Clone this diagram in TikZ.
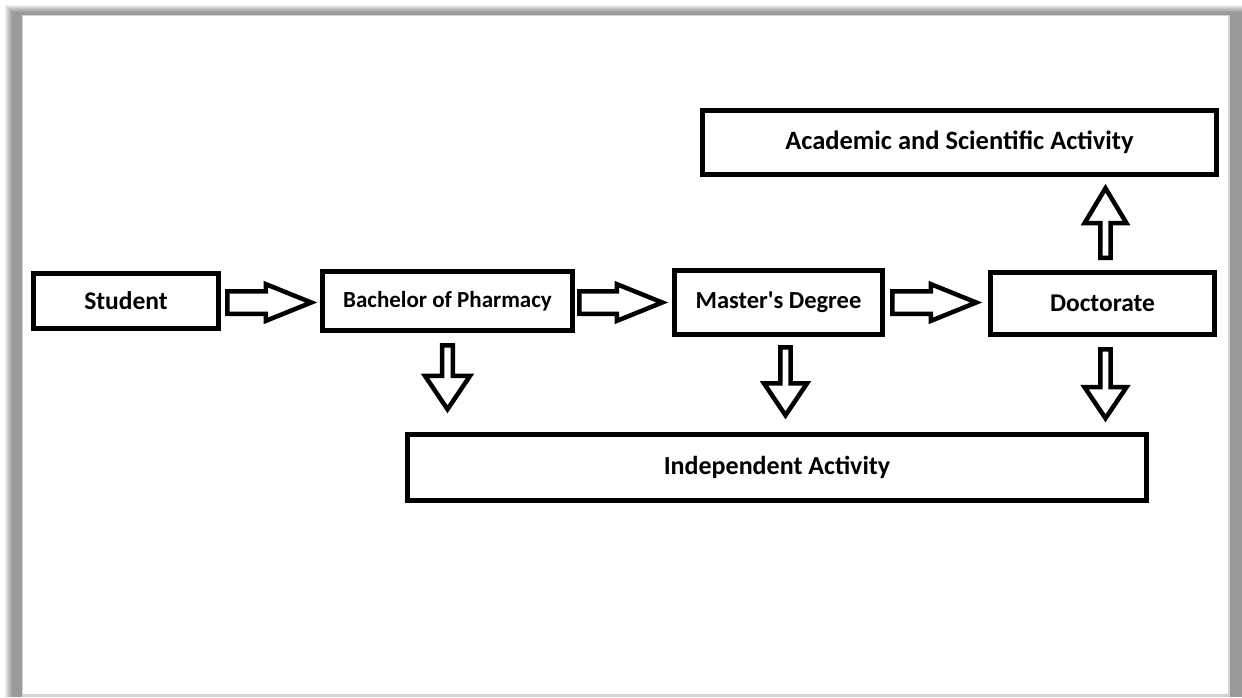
\documentclass[tikz,border=0pt]{standalone}
\usepackage{fontspec}
\setmainfont{Carlito}
\usetikzlibrary{shapes.arrows,calc}
\definecolor{framegray}{HTML}{D4D4D4}
\tikzset{
  box/.style={draw=black,line width=5pt,fill=white,inner sep=0pt,font=\bfseries},
  blockarrow/.style={single arrow,draw=black,line width=4.5pt,fill=white,inner sep=0pt,text depth=0pt,anchor=tail},
  harrow/.style={blockarrow,text height=18pt,minimum width=35pt,single arrow tip angle=44},
  varrow/.style={blockarrow,single arrow tip angle=68,shape border rotate=270},
}
\begin{document}
\begin{tikzpicture}[x=1pt,y=-1pt]
\useasboundingbox (0,0) rectangle (1242,697);
\fill[white] (0,0) rectangle (1242,697);
\foreach \i in {0,...,7}{\fill[black,opacity=0.06] (5+\i,5+\i) rectangle (1242,697);}
\fill[framegray] (22,15) rectangle (1230,697);
\fill[white] (23,16) rectangle (1228,694);

\node[box,minimum width=185,minimum height=55] (s) at (126,301) {\fontsize{25.5}{30}\selectfont Student};
\node[box,minimum width=250,minimum height=59] (b) at (447.5,301) {\fontsize{23}{28}\selectfont Bachelor of Pharmacy};
\node[box,minimum width=208,minimum height=64] (m) at (778.5,302.5) {\fontsize{24.5}{29}\selectfont Master\textquotesingle s Degree};
\node[box,minimum width=224,minimum height=62] (d) at (1102.5,303.5) {\fontsize{25.5}{30}\selectfont\raisebox{-5pt}{Doctorate}};
\node[box,minimum width=514,minimum height=64] (a) at (959.5,142.5) {\fontsize{26.5}{31}\selectfont Academic and Scientific Activity};
\node[box,minimum width=739,minimum height=66] (i) at (777,467.5) {\fontsize{26}{31}\selectfont Independent Activity};

\node[harrow,minimum height=84pt] (sb) at ($(s.east)+(4,1.5)$) {};
\node[harrow,minimum height=83pt] (bm) at ($(b.east)+(2,1.5)$) {};
\node[harrow,minimum height=84pt] (md) at ($(m.east)+(5,0)$) {};

\node[varrow,text height=25pt,minimum width=45pt,minimum height=64pt] (bi) at ($(b.south)+(0,10)$) {};
\node[varrow,text height=23pt,minimum width=43pt,minimum height=68pt] (mi) at ($(m.south)+(7,8)$) {};
\node[varrow,text height=22pt,minimum width=42pt,minimum height=69pt] (di) at ($(d.south)+(3,10)$) {};
\node[blockarrow,text height=22pt,minimum height=69.5pt,minimum width=42pt,single arrow tip angle=62,shape border rotate=90] (da) at ($(d.north)+(3,-10)$) {};
\end{tikzpicture}
\end{document}
